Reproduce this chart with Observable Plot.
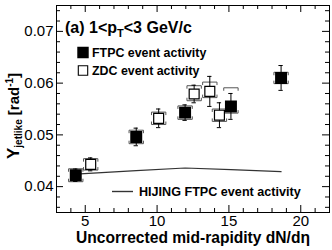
<!DOCTYPE html>
<html><head><meta charset="utf-8">
<script src="https://cdn.jsdelivr.net/npm/d3@7"></script>
<script src="https://cdn.jsdelivr.net/npm/@observablehq/plot@0.6"></script>
<style>body{margin:0;background:#fff} svg{display:block}</style>
</head><body><div id="chart"></div>
<script>
// ---- data ----
const ftpcX    = [4.34, 8.55, 11.95, 15.14, 18.63];
const ftpcY    = [0.0422, 0.0496, 0.0543, 0.0555, 0.0610];
const ftpcStat = [0.0012, 0.0017, 0.0015, 0.0025, 0.0024];
const ftpcSysLo = [0.00125, 0.0013, 0.0013, 0.0013, 0.0011];
const ftpcSysHi = [0.00125, 0.0013, 0.0013, 0.0036, 0.0011];

const zdcX    = [5.38, 10.11, 12.58, 13.67, 14.34];
const zdcY    = [0.0443, 0.0532, 0.0579, 0.0584, 0.0538];
const zdcStat = [0.00125, 0.0018, 0.0017, 0.0029, 0.0024];
const zdcSysLo = [0.0011, 0.0012, 0.0013, 0.0012, 0.0012];
const zdcSysHi = [0.0011, 0.0012, 0.0016, 0.0018, 0.0012];

const hijingX = [4.34, 8.55, 11.95, 15.14, 18.63];
const hijingY = [0.0424, 0.0431, 0.0436, 0.0433, 0.0429];

const xTicks = [5, 10, 15, 20];
const yTicks = [0.04, 0.05, 0.06, 0.07];
const xDomain = [3, 22];
const yDomain = [0.035, 0.075];

// ---- layout ----
const W = 332, H = 250, mL = 56, mR = 3, mT = 5, mB = 38;
const innerW = W - mL - mR, innerH = H - mT - mB;
const majLen = 7, minLen = 4;

const ftpc = ftpcX.map((x, i) => ({x, y: ftpcY[i], e: ftpcStat[i], lo: ftpcSysLo[i], hi: ftpcSysHi[i]}));
const zdc = zdcX.map((x, i) => ({x, y: zdcY[i], e: zdcStat[i], lo: zdcSysLo[i], hi: zdcSysHi[i]}));
const hijing = hijingX.map((x, i) => ({x, y: hijingY[i]}));
const pts = [...ftpc, ...zdc];

const capW = 0.15, bw = 0.5, bt = 0.0005;
const caps = pts.flatMap(d => [{x: d.x, y: d.y + d.e}, {x: d.x, y: d.y - d.e}]);
const brackets = pts.flatMap((d, i) => {
  const t = d.y + d.hi, b = d.y - d.lo;
  return [
    {id: "t" + i, x: d.x - bw, y: t - bt}, {id: "t" + i, x: d.x - bw, y: t},
    {id: "t" + i, x: d.x + bw, y: t}, {id: "t" + i, x: d.x + bw, y: t - bt},
    {id: "b" + i, x: d.x - bw, y: b + bt}, {id: "b" + i, x: d.x - bw, y: b},
    {id: "b" + i, x: d.x + bw, y: b}, {id: "b" + i, x: d.x + bw, y: b + bt}
  ];
});

const xMinor = d3.range(xDomain[0], xDomain[1] + 0.001, 1).filter(v => !xTicks.includes(v));
const yMinor = d3.range(0.036, 0.0745, 0.002).filter(v => !yTicks.some(t => Math.abs(t - v) < 1e-6));

const font = "'Liberation Sans', Arial, Helvetica, sans-serif";

const plot = Plot.plot({
  width: W, height: H, marginLeft: mL, marginRight: mR, marginTop: mT, marginBottom: mB,
  style: {fontFamily: font, fontSize: "15px", color: "#000", background: "#fff", overflow: "visible"},
  x: {domain: xDomain},
  y: {domain: yDomain},
  marks: [
    Plot.tickY(yTicks, {y: d => d, insetRight: innerW - majLen, stroke: "#000"}),
    Plot.tickY(yMinor, {y: d => d, insetRight: innerW - minLen, stroke: "#000"}),
    Plot.tickY(yTicks, {y: d => d, insetLeft: innerW - majLen, stroke: "#000"}),
    Plot.tickY(yMinor, {y: d => d, insetLeft: innerW - minLen, stroke: "#000"}),
    Plot.tickX(xTicks, {x: d => d, insetTop: innerH - majLen, stroke: "#000"}),
    Plot.tickX(xMinor, {x: d => d, insetTop: innerH - minLen, stroke: "#000"}),
    Plot.tickX(xTicks, {x: d => d, insetBottom: innerH - majLen, stroke: "#000"}),
    Plot.tickX(xMinor, {x: d => d, insetBottom: innerH - minLen, stroke: "#000"}),
    Plot.axisX(xTicks, {tickSize: 0, tickPadding: 3, fontSize: 15, label: null, tickFormat: d => String(d)}),
    Plot.axisY(yTicks, {tickSize: 0, tickPadding: 3, fontSize: 15, label: null, tickFormat: d3.format(".2f")}),
    Plot.frame({stroke: "#000"}),
    Plot.line(hijing, {x: "x", y: "y", stroke: "#333", strokeWidth: 1.2}),
    Plot.line(brackets, {x: "x", y: "y", z: "id", stroke: "#555", strokeWidth: 1}),
    Plot.ruleX(pts, {x: "x", y1: d => d.y - d.e, y2: d => d.y + d.e, stroke: "#000", strokeWidth: 1}),
    Plot.ruleY(caps, {y: "y", x1: d => d.x - capW, x2: d => d.x + capW, stroke: "#000", strokeWidth: 1}),
    Plot.dot(ftpc, {x: "x", y: "y", symbol: "square", r: 5.9, fill: "#000", stroke: "#000"}),
    Plot.dot(zdc, {x: "x", y: "y", symbol: "square", r: 5.6, fill: "#fff", stroke: "#000", strokeWidth: 1.2}),
    Plot.dot([0], {frameAnchor: "top-left", dx: 82.5 - mL, dy: 52 - mT, symbol: "square", r: 5.6, fill: "#000", stroke: "#000"}),
    Plot.dot([0], {frameAnchor: "top-left", dx: 82.5 - mL, dy: 70 - mT, symbol: "square", r: 5.3, fill: "#fff", stroke: "#000", strokeWidth: 1.1})
  ]
});

const svg = d3.select(plot);
const addText = (x, y, size, weight) => svg.append("text")
  .attr("x", x).attr("y", y).attr("font-family", font).attr("text-anchor", "start")
  .attr("font-size", size).attr("font-weight", weight).attr("fill", "#000");

const t1 = addText(65, 33, 16, "bold");
t1.append("tspan").text("(a) 1<p");
t1.append("tspan").attr("font-size", 11).attr("dy", 4).text("T");
t1.append("tspan").attr("dy", -4).text("<3 GeV/c");

addText(92, 56.5, 12.4, "bold").text("FTPC event activity");
addText(92, 74.5, 12.4, "bold").text("ZDC event activity");
svg.append("line").attr("x1", 112).attr("x2", 133).attr("y1", 191.5).attr("y2", 191.5)
  .attr("stroke", "#333").attr("stroke-width", 1.4);
addText(139, 196, 12.6, "bold").text("HIJING FTPC event activity");

addText(310, 243, 15.6, "bold").attr("text-anchor", "end").text("Uncorrected mid-rapidity dN/d\u03b7");

const yt = svg.append("text").attr("transform", "translate(19,159) rotate(-90)").attr("text-anchor", "start")
  .attr("font-family", font).attr("font-weight", "bold").attr("font-size", 17).attr("fill", "#000");
yt.append("tspan").text("Y");
yt.append("tspan").attr("font-size", 10).attr("dy", 3).text("jetlike");
yt.append("tspan").attr("font-size", 15).attr("dy", -3).text(" [rad");
yt.append("tspan").attr("font-size", 10).attr("dy", -6).text("-1");
yt.append("tspan").attr("font-size", 15).attr("dy", 6).text("]");

document.getElementById("chart").appendChild(plot);
</script>
</body></html>
